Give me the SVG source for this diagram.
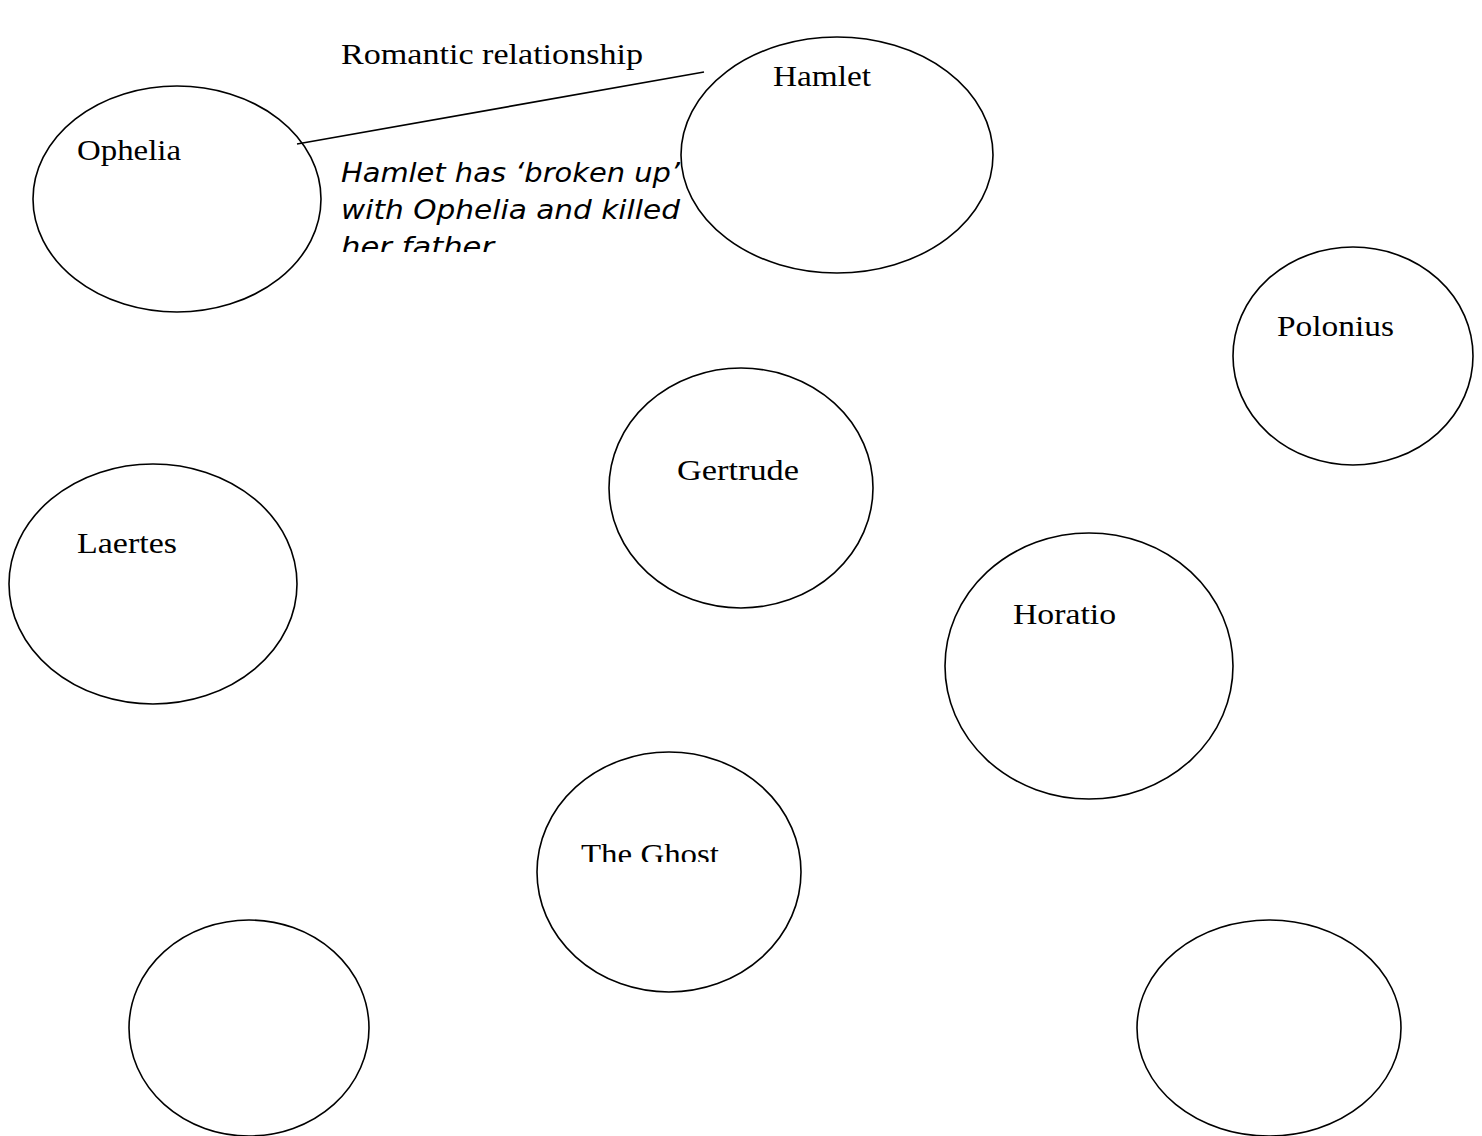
<svg xmlns="http://www.w3.org/2000/svg" width="1482" height="1136" viewBox="0 0 1482 1136">
<style>
.n{fill:#fff;stroke:#000;stroke-width:1.6}
.t{font-family:"Liberation Serif",serif;font-size:29px;fill:#000}
.i{font-family:"DejaVu Sans",sans-serif;font-style:italic;font-size:26px;fill:#000}
</style>
<defs>
<clipPath id="c1"><rect x="330" y="150" width="360" height="102"/></clipPath>
<clipPath id="c2"><rect x="560" y="820" width="200" height="42"/></clipPath>
</defs>
<rect width="1482" height="1136" fill="#fff"/>
<g id="ophelia"><ellipse class="n" cx="177" cy="199" rx="144" ry="113"/><text class="t" x="77" y="160" textLength="104" lengthAdjust="spacingAndGlyphs">Ophelia</text></g>
<g id="hamlet"><ellipse class="n" cx="837" cy="155" rx="156" ry="118"/><text class="t" x="773" y="86" textLength="98" lengthAdjust="spacingAndGlyphs">Hamlet</text></g>
<g id="polonius"><ellipse class="n" cx="1353" cy="356" rx="120" ry="109"/><text class="t" x="1277" y="336" textLength="117" lengthAdjust="spacingAndGlyphs">Polonius</text></g>
<g id="gertrude"><ellipse class="n" cx="741" cy="488" rx="132" ry="120"/><text class="t" x="677" y="480" textLength="122" lengthAdjust="spacingAndGlyphs">Gertrude</text></g>
<g id="laertes"><ellipse class="n" cx="153" cy="584" rx="144" ry="120"/><text class="t" x="77" y="553" textLength="100" lengthAdjust="spacingAndGlyphs">Laertes</text></g>
<g id="horatio"><ellipse class="n" cx="1089" cy="666" rx="144" ry="133"/><text class="t" x="1013" y="624" textLength="103" lengthAdjust="spacingAndGlyphs">Horatio</text></g>
<g id="ghost"><ellipse class="n" cx="669" cy="872" rx="132" ry="120"/><text class="t" x="581" y="864" clip-path="url(#c2)" textLength="138" lengthAdjust="spacingAndGlyphs">The Ghost</text></g>
<g id="blank1"><ellipse class="n" cx="249" cy="1028" rx="120" ry="108"/></g>
<g id="blank2"><ellipse class="n" cx="1269" cy="1028" rx="132" ry="108"/></g>
<g id="connectors">
<line x1="297" y1="144" x2="704" y2="72" stroke="#000" stroke-width="1.6"/>
<text class="t" x="341" y="64" textLength="302" lengthAdjust="spacingAndGlyphs">Romantic relationship</text>
<g clip-path="url(#c1)">
<text class="i" x="341" y="182" textLength="339" lengthAdjust="spacingAndGlyphs">Hamlet has ‘broken up’</text>
<text class="i" x="341" y="219" textLength="339" lengthAdjust="spacingAndGlyphs">with Ophelia and killed</text>
<text class="i" x="341" y="256" textLength="160" lengthAdjust="spacingAndGlyphs">her father.</text>
</g>
</g>
</svg>
